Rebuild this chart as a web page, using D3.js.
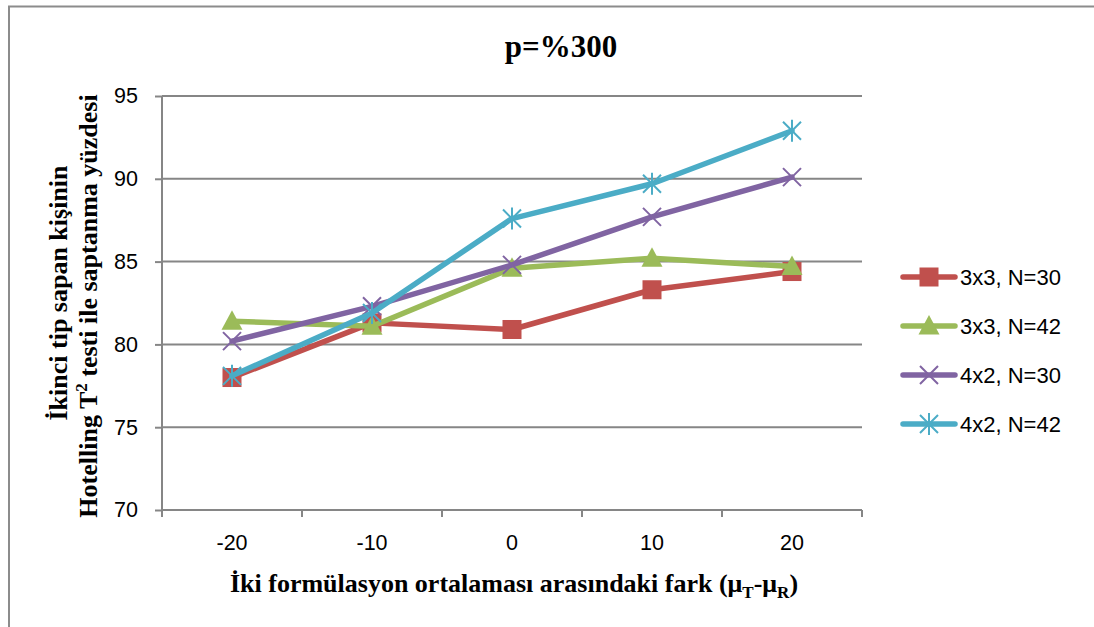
<!DOCTYPE html>
<html>
<head>
<meta charset="utf-8">
<script src="https://cdn.jsdelivr.net/npm/d3@7"></script>
<style>
  html, body { margin: 0; padding: 0; background: #fff; }
  svg { display: block; }
</style>
</head>
<body>
<svg id="chart" width="1094" height="627"></svg>
<script>
// Mean-difference categories on the x axis
const categories = ["-20", "-10", "0", "10", "20"];

// Detection percentages per design / sample size
const s3x3N30 = [78.0, 81.3, 80.9, 83.3, 84.4];
const s3x3N42 = [81.4, 81.1, 84.6, 85.2, 84.7];
const s4x2N30 = [80.2, 82.3, 84.8, 87.7, 90.1];
const s4x2N42 = [78.1, 81.9, 87.6, 89.7, 92.9];

const seriesNames = ["3x3, N=30", "3x3, N=42", "4x2, N=30", "4x2, N=42"];
const yTicks = [70, 75, 80, 85, 90, 95];

const series = [
  { name: seriesNames[0], values: s3x3N30, color: "#C0504D", marker: "square" },
  { name: seriesNames[1], values: s3x3N42, color: "#9BBB59", marker: "triangle" },
  { name: seriesNames[2], values: s4x2N30, color: "#8064A2", marker: "x" },
  { name: seriesNames[3], values: s4x2N42, color: "#4BACC6", marker: "star" }
];

const svg = d3.select("#chart");
const W = 1094, H = 627;

// outer frame (top and left edges visible)
svg.append("path")
  .attr("d", `M9,${H} L9,6.5 L${W},6.5`)
  .attr("fill", "none")
  .attr("stroke", "#8c8c8c")
  .attr("stroke-width", 2);

const plot = { left: 162, right: 862, top: 96, bottom: 510 };

const x = d3.scaleBand().domain(categories).range([plot.left, plot.right]);
const y = d3.scaleLinear().domain([70, 95]).range([plot.bottom, plot.top]);

const gridColor = "#868686";
const tickFont = "'Liberation Sans', Arial, sans-serif";
const tickSize = 21.5;

// horizontal gridlines + y axis
const yAxis = d3.axisLeft(y).tickValues(yTicks).tickSize(7).tickPadding(17).tickFormat(d3.format("d"));
const gy = svg.append("g").attr("transform", `translate(${plot.left},0)`).call(yAxis);
gy.select(".domain").remove();
gy.selectAll(".tick line").attr("stroke", gridColor).attr("stroke-width", 2);
gy.selectAll(".tick text")
  .attr("font-family", tickFont).attr("font-size", tickSize).attr("fill", "#000");

svg.append("g").selectAll("line").data(yTicks).join("line")
  .attr("x1", plot.left).attr("x2", plot.right)
  .attr("y1", d => y(d)).attr("y2", d => y(d))
  .attr("stroke", gridColor).attr("stroke-width", 2);

// vertical axis line
svg.append("line")
  .attr("x1", plot.left).attr("x2", plot.left)
  .attr("y1", plot.top).attr("y2", plot.bottom + 7)
  .attr("stroke", gridColor).attr("stroke-width", 2);

// x axis: tick marks at category boundaries, labels at centres
const gx = svg.append("g").attr("transform", `translate(0,${plot.bottom})`)
  .call(d3.axisBottom(x).tickSize(0).tickPadding(25));
gx.select(".domain").remove();
gx.selectAll(".tick text")
  .attr("font-family", tickFont).attr("font-size", tickSize).attr("fill", "#000");

const boundaries = categories.map(c => x(c)).concat([x(categories[categories.length - 1]) + x.bandwidth()]);
svg.append("g").selectAll("line").data(boundaries).join("line")
  .attr("x1", d => d).attr("x2", d => d)
  .attr("y1", plot.bottom).attr("y2", plot.bottom + 7)
  .attr("stroke", gridColor).attr("stroke-width", 2);

// marker drawing
function drawMarker(g, type, color, cx, cy) {
  if (type === "square") {
    g.append("rect").attr("x", cx - 9.5).attr("y", cy - 9.5).attr("width", 19).attr("height", 19)
      .attr("fill", color);
  } else if (type === "triangle") {
    g.append("path").attr("d", `M${cx},${cy - 11} L${cx + 10.5},${cy + 8.5} L${cx - 10.5},${cy + 8.5} Z`)
      .attr("fill", color);
  } else if (type === "x") {
    g.append("path").attr("d", `M${cx - 9},${cy - 9} L${cx + 9},${cy + 9} M${cx - 9},${cy + 9} L${cx + 9},${cy - 9}`)
      .attr("stroke", color).attr("stroke-width", 2).attr("fill", "none");
  } else if (type === "star") {
    g.append("path").attr("d", `M${cx - 9},${cy - 9} L${cx + 9},${cy + 9} M${cx - 9},${cy + 9} L${cx + 9},${cy - 9} M${cx},${cy - 11} L${cx},${cy + 11}`)
      .attr("stroke", color).attr("stroke-width", 2).attr("fill", "none");
  }
}

const line = d3.line()
  .x((d, i) => x(categories[i]) + x.bandwidth() / 2)
  .y(d => y(d));

series.forEach(s => {
  const g = svg.append("g");
  g.append("path").attr("d", line(s.values))
    .attr("fill", "none").attr("stroke", s.color).attr("stroke-width", 5.5)
    .attr("stroke-linejoin", "round").attr("stroke-linecap", "round");
  s.values.forEach((v, i) => drawMarker(g, s.marker, s.color, x(categories[i]) + x.bandwidth() / 2, y(v)));
});

// legend
const legend = svg.append("g");
series.forEach((s, i) => {
  const ly = 277 + i * 49;
  const g = legend.append("g");
  g.append("line").attr("x1", 903).attr("x2", 955).attr("y1", ly).attr("y2", ly)
    .attr("stroke", s.color).attr("stroke-width", 5.5).attr("stroke-linecap", "round");
  drawMarker(g, s.marker, s.color, 929, ly);
  g.append("text").attr("x", 960).attr("y", ly).attr("dy", "0.36em")
    .attr("font-family", tickFont).attr("font-size", 22).attr("fill", "#000")
    .text(s.name);
});

const serif = "'Liberation Serif', 'Times New Roman', serif";

// title
svg.append("text")
  .attr("x", 561).attr("y", 57).attr("text-anchor", "middle")
  .attr("font-family", serif).attr("font-weight", "bold").attr("font-size", 31)
  .text("p=%300");

// x-axis title
const xt = svg.append("text")
  .attr("x", 514).attr("y", 592).attr("text-anchor", "middle")
  .attr("font-family", serif).attr("font-weight", "bold").attr("font-size", 26);
xt.append("tspan").text("İki formülasyon ortalaması arasındaki fark (μ");
xt.append("tspan").attr("font-size", 17).attr("dy", 6).text("T");
xt.append("tspan").attr("dy", -6).text("-μ");
xt.append("tspan").attr("font-size", 17).attr("dy", 6).text("R");
xt.append("tspan").attr("dy", -6).text(")");

// y-axis title (two lines)
const yt = svg.append("text")
  .attr("transform", "translate(0,306) rotate(-90)")
  .attr("text-anchor", "middle")
  .attr("font-family", serif).attr("font-weight", "bold").attr("font-size", 26);
yt.append("tspan").attr("x", 13).attr("y", 67).text("İkinci tip sapan kişinin");
const l2 = yt.append("tspan").attr("x", 0).attr("y", 97);
l2.append("tspan").text("Hotelling T");
l2.append("tspan").attr("font-size", 17).attr("dy", -10).text("2");
l2.append("tspan").attr("dy", 10).text(" testi ile saptanma yüzdesi");
</script>
</body>
</html>
